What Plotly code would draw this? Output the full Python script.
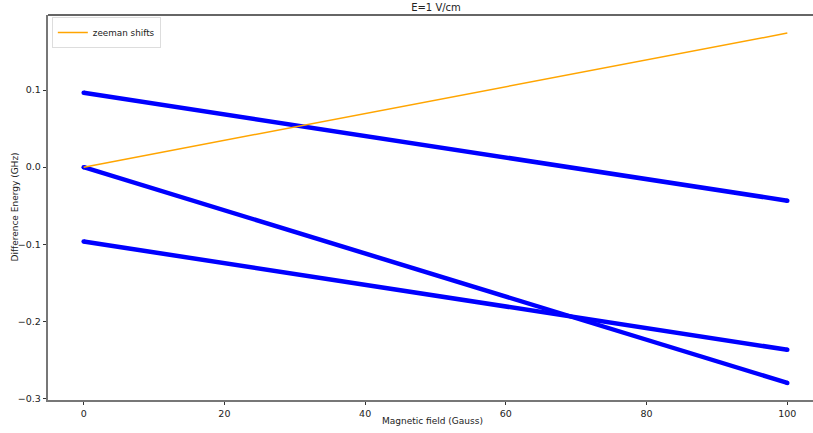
import plotly.graph_objects as go

# Data
field = [0, 100]
level_upper = [0.0965, -0.0435]
level_middle = [0.0, -0.280]
level_lower = [-0.0965, -0.237]
zeeman_shift = [0.0, 0.174]

x_ticks = [0, 20, 40, 60, 80, 100]
y_ticks = [-0.3, -0.2, -0.1, 0.0, 0.1]
y_tick_text = ["\u22120.3", "\u22120.2", "\u22120.1", "0.0", "0.1"]

fig = go.Figure()
for lvl in (level_upper, level_middle, level_lower):
    fig.add_trace(go.Scatter(
        x=field, y=lvl, mode="lines+markers",
        line=dict(color="#0000ff", width=4.5),
        marker=dict(color="#0000ff", size=4.5),
        showlegend=False, hoverinfo="skip"))

fig.add_trace(go.Scatter(
    x=field, y=zeeman_shift, mode="lines",
    line=dict(color="orange", width=1.5),
    name="zeeman shifts"))

font = dict(family="DejaVu Sans", size=9.5, color="#222")
W, H = 813, 433

fig.update_layout(
    width=W, height=H,
    margin=dict(l=48, r=0, t=15, b=33),
    paper_bgcolor="white", plot_bgcolor="white",
    font=font,
    title=dict(text="E=1 V/cm", x=436/W, xref="container", xanchor="center",
               y=1 - 7/H, yref="container", yanchor="middle",
               font=dict(family="DejaVu Sans", size=10, color="#222")),
    legend=dict(x=0.005, y=0.995, xanchor="left", yanchor="top",
                bgcolor="white", bordercolor="#dddddd", borderwidth=1,
                font=dict(family="DejaVu Sans", size=8.8, color="#222"),
                itemwidth=30, tracegroupgap=0),
    xaxis=dict(range=[-5.07, 103.65], tickvals=x_ticks, ticks="outside",
               ticklen=3.5, tickwidth=1, tickcolor="#333",
               showgrid=False, zeroline=False, showline=True,
               linecolor="#777", linewidth=1.5),
    yaxis=dict(range=[-0.3022, 0.1975], tickvals=y_ticks, ticktext=y_tick_text,
               ticks="outside", ticklen=3.5, tickwidth=1, tickcolor="#333",
               showgrid=False, zeroline=False, showline=True,
               linecolor="#777", linewidth=1.5),
)

# axis titles
fig.add_annotation(text="Magnetic field (Gauss)", xref="paper", yref="paper",
                   x=(432 - 48) / (W - 48), y=-(421 - 400) / (H - 15 - 33),
                   xanchor="center", yanchor="middle", showarrow=False,
                   font=dict(family="DejaVu Sans", size=9, color="#222"))
fig.add_annotation(text="Difference Energy (GHz)", xref="paper", yref="paper",
                   x=-(48 - 14) / (W - 48), y=(400 - 207.5) / (H - 15 - 33),
                   xanchor="center", yanchor="middle", textangle=-90, showarrow=False,
                   font=dict(family="DejaVu Sans", size=9, color="#222"))

# top spine
fig.add_shape(type="line", xref="paper", yref="paper", x0=0, x1=1, y0=1, y1=1,
              line=dict(color="#333", width=1.5))

fig.write_html("out.html")
